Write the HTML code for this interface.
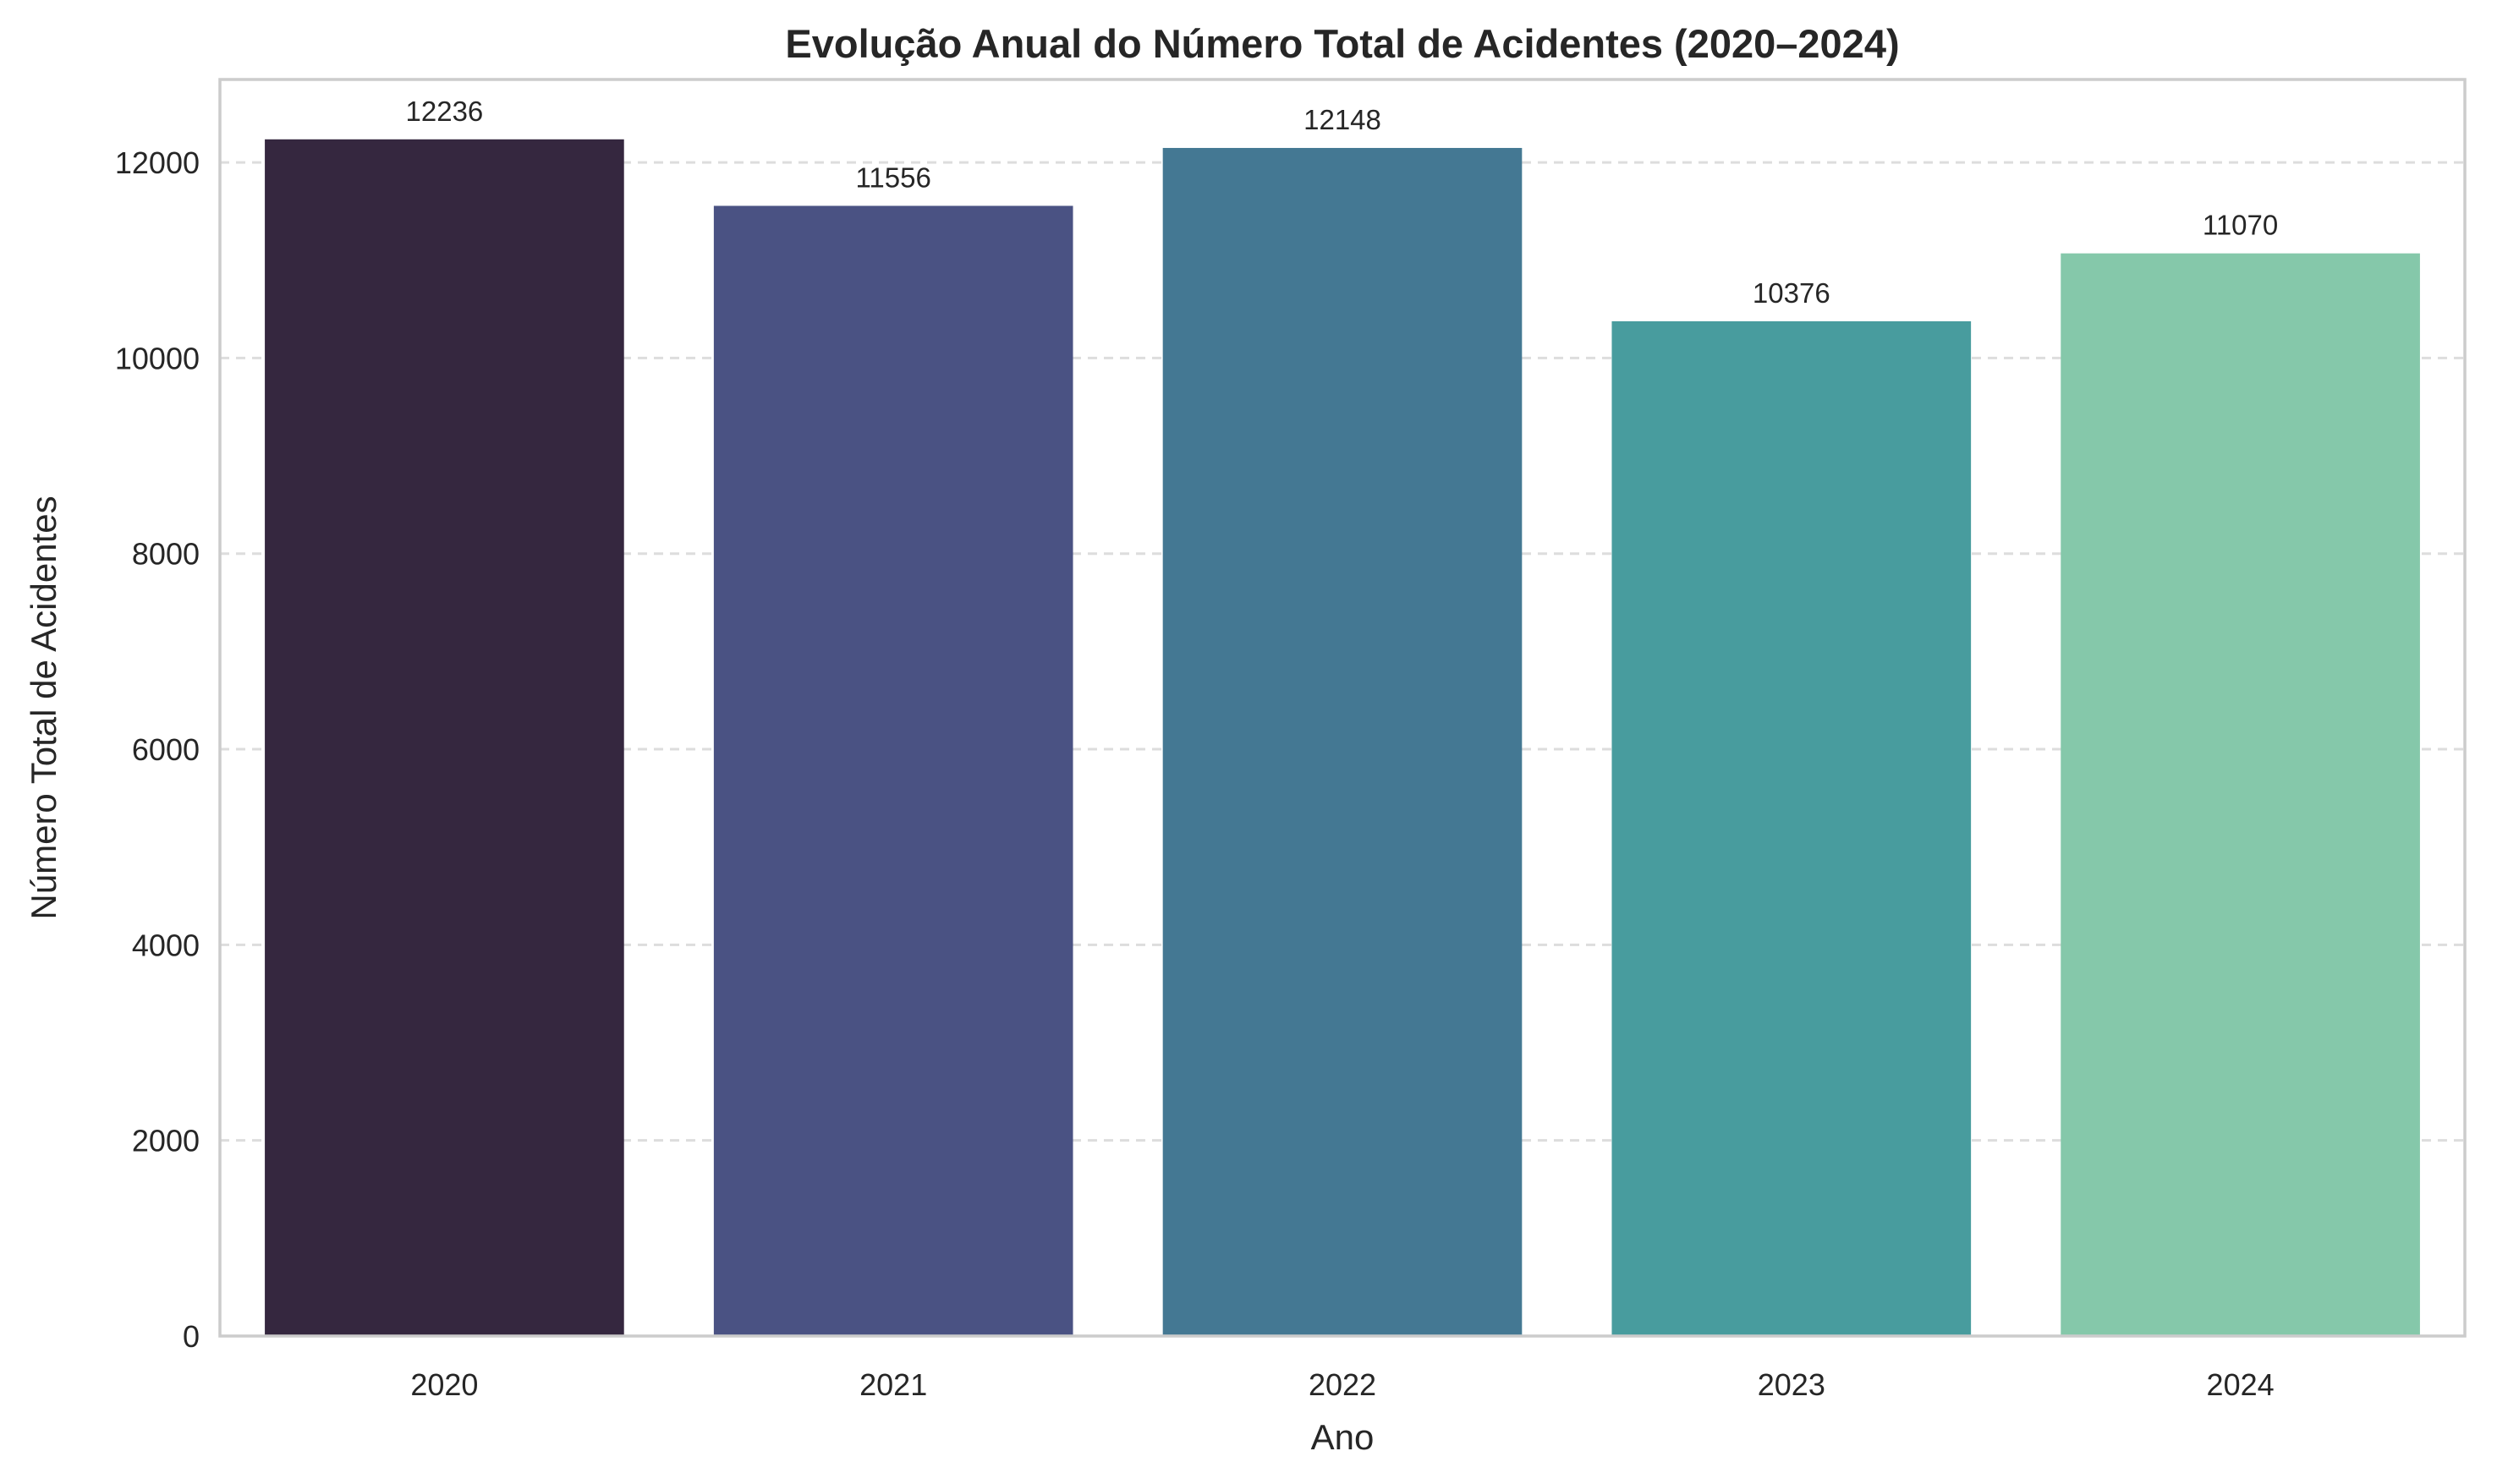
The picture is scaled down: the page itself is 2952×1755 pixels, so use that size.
<!DOCTYPE html>
<html><head><meta charset="utf-8"><style>
body{margin:0;background:#fff;}
svg{display:block;font-family:"Liberation Sans",Arial,sans-serif;}
</style></head><body>
<svg id="chart" width="2952" height="1755" viewBox="0 0 2952 1755">
<rect width="2952" height="1755" fill="#fff"/>
<text x="1587" y="68" text-anchor="middle" font-size="47" font-weight="bold" fill="#262626">Evolução Anual do Número Total de Acidentes (2020–2024)</text>
<g id="grid"></g><g id="bars"></g><g id="ticks"></g>
<rect x="260" y="94" width="2654" height="1486" fill="none" stroke="#cccccc" stroke-width="3.5"/>
<text x="1587" y="1714" text-anchor="middle" font-size="42" fill="#262626">Ano</text>
<text transform="translate(66,837) rotate(-90)" text-anchor="middle" font-size="42" fill="#262626">Número Total de Acidentes</text>
</svg>
<script>
const categories=["2020","2021","2022","2023","2024"];
const values=[12236,11556,12148,10376,11070];
const yTicks=[0,2000,4000,6000,8000,10000,12000];
const colors=["#35273f","#4a5283","#447893","#489c9e","#85c8aa"];
const L=260,R=2914,T=94,B=1580,yMax=12848;
const ns="http://www.w3.org/2000/svg";
function y(v){return B-(v/yMax)*(B-T);}
const band=(R-L)/categories.length;
function x(i){return L+band*(i+0.5);}
function mk(t,a,p){const e=document.createElementNS(ns,t);for(const k in a)e.setAttribute(k,a[k]);p.appendChild(e);return e;}
const g=document.getElementById('grid'),bg=document.getElementById('bars'),tg=document.getElementById('ticks');
yTicks.forEach(v=>{
 if(v>0){const l=mk('line',{x1:L,x2:R,y1:y(v),y2:y(v),stroke:'#dddddd','stroke-width':3,'stroke-dasharray':'11,8'},g);
 
 }
 const t=mk('text',{x:L-24,y:y(v)+13,'text-anchor':'end','font-size':36,fill:'#262626'},tg);t.textContent=v;
 
 
});
categories.forEach((c,i)=>{
 const w=band*0.8;
 const r=mk('rect',{x:x(i)-w/2,y:y(values[i]),width:w,height:B-y(values[i]),fill:colors[i]},bg);
 
 
 const lb=mk('text',{x:x(i),y:y(values[i])-22,'text-anchor':'middle','font-size':33,fill:'#262626'},bg);lb.textContent=values[i];
 
 
 const t=mk('text',{x:x(i),y:B+70,'text-anchor':'middle','font-size':36,fill:'#262626'},tg);t.textContent=c;
 
 
});
</script>
</body></html>
